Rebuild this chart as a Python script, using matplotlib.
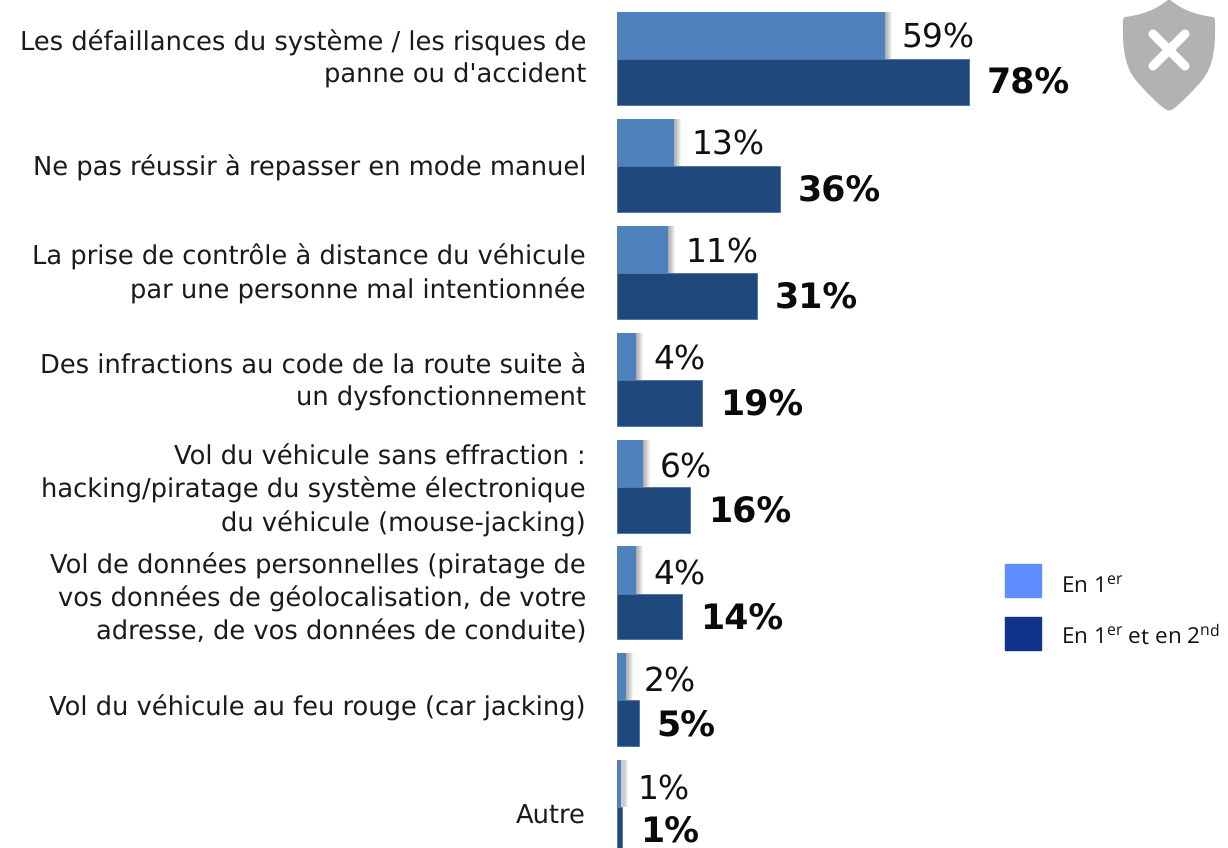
import matplotlib
matplotlib.use("Agg")
import matplotlib.pyplot as plt
import matplotlib.patheffects as pe
from matplotlib.path import Path
from matplotlib.patches import PathPatch, Rectangle
from matplotlib.lines import Line2D
from matplotlib.transforms import Affine2D

categories = [
    "Les défaillances du système / les risques de\npanne ou d'accident",
    "Ne pas réussir à repasser en mode manuel",
    "La prise de contrôle à distance du véhicule\npar une personne mal intentionnée",
    "Des infractions au code de la route suite à\nun dysfonctionnement",
    "Vol du véhicule sans effraction :\nhacking/piratage du système électronique\ndu véhicule (mouse-jacking)",
    "Vol de données personnelles (piratage de\nvos données de géolocalisation, de votre\nadresse, de vos données de conduite)",
    "Vol du véhicule au feu rouge (car jacking)",
    "Autre",
]
first = [59.4, 12.7, 11.3, 4.3, 5.8, 4.3, 2.1, 0.8]
first_second = [78, 36.1, 31, 18.8, 16.2, 14.4, 4.8, 1.1]
first_labels = ["59%", "13%", "11%", "4%", "6%", "4%", "2%", "1%"]
second_labels = ["78%", "36%", "31%", "19%", "16%", "14%", "5%", "1%"]

W, H = 1228, 848
LIGHT, DARK = "#4F81BD", "#1F497D"
plt.rcParams["font.family"] = "DejaVu Sans"
plt.rcParams["mathtext.fontset"] = "custom"
plt.rcParams["mathtext.rm"] = "Open Sans"
plt.rcParams["text.hinting"] = "none"

fig = plt.figure(figsize=(W / 100, H / 100), dpi=100)
x0, px_per_pct, y0, period = 617, 4.51, 59, 106.9
ax = fig.add_axes([x0 / W, 0, 1 - x0 / W, 1])
ax.set_xlim(0, (W - x0) / px_per_pct)
ax.set_ylim((H - y0) / period, -y0 / period)
ax.axis("off")

pos = list(range(len(categories)))
shadow = [pe.SimplePatchShadow(offset=(k * 0.72, 0), shadow_rgbFace="#000000", alpha=0.05, rho=1)
          for k in (7, 6, 5, 4, 3, 2, 1)] + [pe.Normal()]
b1 = ax.barh([p - 0.22 for p in pos], first, height=0.44, color=LIGHT, zorder=2)
for r in b1:
    r.set_path_effects(shadow)
ax.barh([p + 0.215 for p in pos], first_second, height=0.43, color=DARK,
        edgecolor="#4A6F9E", linewidth=0.6, zorder=3)

label_shift = [-2, 0, -1, 1, 2, 3, 5, 7]  # vertical nudge of category labels, in pixels
for i, cat in enumerate(categories):
    ax.annotate(cat, (0, i + 0.02), xytext=(-31, -label_shift[i]), textcoords="offset pixels",
                ha="right", va="center", fontsize=18.5, color="#1a1a1a", linespacing=1.35,
                multialignment="right", annotation_clip=False)
    nudge = 2 + 0.5 * i
    ax.annotate(first_labels[i], (first[i], i - 0.22), xytext=(17, -nudge), textcoords="offset pixels",
                ha="left", va="center", fontsize=23.7, color="#111111", annotation_clip=False)
    ax.annotate(second_labels[i], (first_second[i], i + 0.215), xytext=(18, -min(nudge, 3)), textcoords="offset pixels",
                ha="left", va="center", fontsize=25, fontweight="bold", color="#0a0a0a",
                annotation_clip=False, zorder=5)

# Legend
to_fig = Affine2D().scale(1 / W, -1 / H).translate(0, 1) + fig.transFigure
fig.add_artist(Rectangle((1005, 564), 36, 33, color="#5F8FFF", transform=to_fig))
fig.add_artist(Rectangle((1005, 617), 36, 33, color="#103389", transform=to_fig))
fig.text(1061 / W, 1 - 587 / H, r"En 1$^{\mathrm{er}}$", fontsize=16.2, family="Open Sans",
         va="center", color="#111111")
fig.text(1061 / W, 1 - 637 / H, r"En 1$^{\mathrm{er}}$ et en 2$^{\mathrm{nd}}$", fontsize=16.2,
         family="Open Sans", va="center", color="#111111")

# Shield icon
v = [(1169, -1), (1155, 11, 1140, 15, 1125, 17), (1123, 18, 1123, 20, 1123, 22),
     (1122, 55, 1127, 72, 1140, 85), (1150, 96, 1158, 104, 1165, 109),
     (1168, 111, 1170, 111, 1173, 109), (1180, 104, 1188, 96, 1198, 85),
     (1211, 72, 1216, 55, 1215, 22), (1215, 20, 1215, 18, 1213, 17),
     (1198, 15, 1183, 11, 1169, -1)]
verts, codes = [v[0]], [Path.MOVETO]
for s in v[1:]:
    if len(s) == 2:
        verts.append(s); codes.append(Path.LINETO)
    else:
        verts += [(s[0], s[1]), (s[2], s[3]), (s[4], s[5])]
        codes += [Path.CURVE4] * 3
fig.add_artist(PathPatch(Path(verts, codes), facecolor="#B2B2B2", edgecolor="none", transform=to_fig))
for xs, ys in (((1153, 1185), (34, 66)), ((1153, 1185), (66, 34))):
    fig.add_artist(Line2D(xs, ys, color="white", lw=6.5, solid_capstyle="round", transform=to_fig))

fig.savefig("out.png", dpi=100)
